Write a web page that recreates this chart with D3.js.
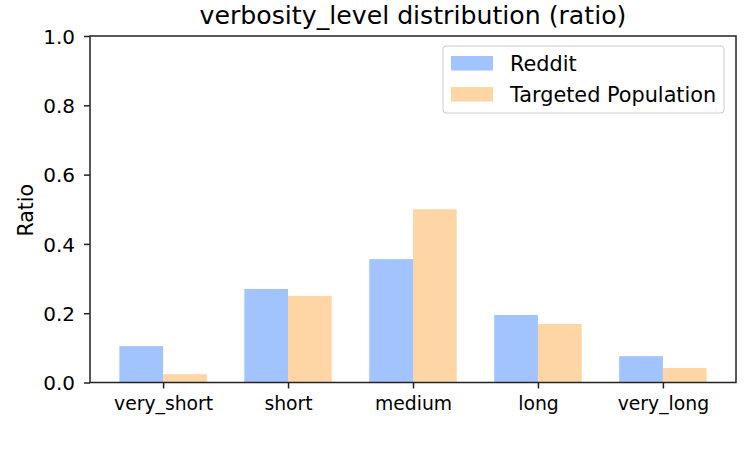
<!DOCTYPE html>
<html><head><meta charset="utf-8">
<script src="https://cdn.jsdelivr.net/npm/d3@7"></script>
<style>body{margin:0;background:#fff}svg{display:block}text{font-family:"DejaVu Sans",sans-serif;fill:#000}</style>
</head><body><svg id="c" width="750" height="450"></svg>
<script>
const categories = ["very_short","short","medium","long","very_long"];
const reddit = [0.105, 0.270, 0.356, 0.195, 0.076];
const targeted = [0.024, 0.250, 0.500, 0.169, 0.042];
const seriesNames = ["Reddit","Targeted Population"];
const yTicks = [0,0.2,0.4,0.6,0.8,1.0];
const colors = ["#a2c4fe","#fed6a5"];

const svg = d3.select("#c");
const L=90,R=736,T=36,B=382.5;
const x = d3.scaleLinear().domain([-0.585,4.585]).range([L,R]);
const y = d3.scaleLinear().domain([0,1]).range([B,T]);
const bw = 0.35;
const series=[reddit,targeted];
series.forEach((s,si)=>{
  svg.append("g").selectAll("rect").data(s).join("rect")
    .attr("x",(d,i)=>x(i+(si===0?-bw:0)))
    .attr("width",x(bw)-x(0))
    .attr("y",d=>y(d)).attr("height",d=>B-y(d))
    .attr("fill",colors[si]);
});
const ya = svg.append("g").attr("transform",`translate(${L},0)`)
  .call(d3.axisLeft(y).tickValues(yTicks).tickFormat(d3.format(".1f")).tickSize(6).tickPadding(9));
ya.select(".domain").remove();
ya.selectAll("line").attr("stroke","#222").attr("stroke-width",1.5);
ya.selectAll("text").style("font-size","20px").attr("dy","0.36em");
const xa = svg.append("g").attr("transform",`translate(0,${B})`)
  .call(d3.axisBottom(x).tickValues(d3.range(categories.length)).tickFormat(i=>categories[i]).tickSize(6).tickPadding(8));
xa.select(".domain").remove();
xa.selectAll("line").attr("stroke","#222").attr("stroke-width",1.5);
xa.selectAll("text").style("font-size","18.8px");
svg.append("rect").attr("x",L).attr("y",T).attr("width",R-L).attr("height",B-T)
  .attr("fill","none").attr("stroke","#222").attr("stroke-width",1.5);
svg.append("text").attr("x",(L+R)/2).attr("y",24).attr("text-anchor","middle").style("font-size","25.2px").text("verbosity_level distribution (ratio)");
svg.append("text").attr("transform",`translate(32.5,${(T+B)/2+1}) rotate(-90)`).attr("text-anchor","middle").style("font-size","20.5px").text("Ratio");
const lg = svg.append("g");
lg.append("rect").attr("x",443).attr("y",46).attr("width",281).attr("height",67).attr("rx",3)
  .attr("fill","#fff").attr("stroke","#ccc").attr("stroke-width",1);
seriesNames.forEach((n,i)=>{
  lg.append("rect").attr("x",451).attr("y",56+i*31).attr("width",42).attr("height",14.5).attr("fill",colors[i]);
  lg.append("text").attr("x",510).attr("y",70.5+i*31).style("font-size","20.8px").text(n);
});
</script></body></html>
